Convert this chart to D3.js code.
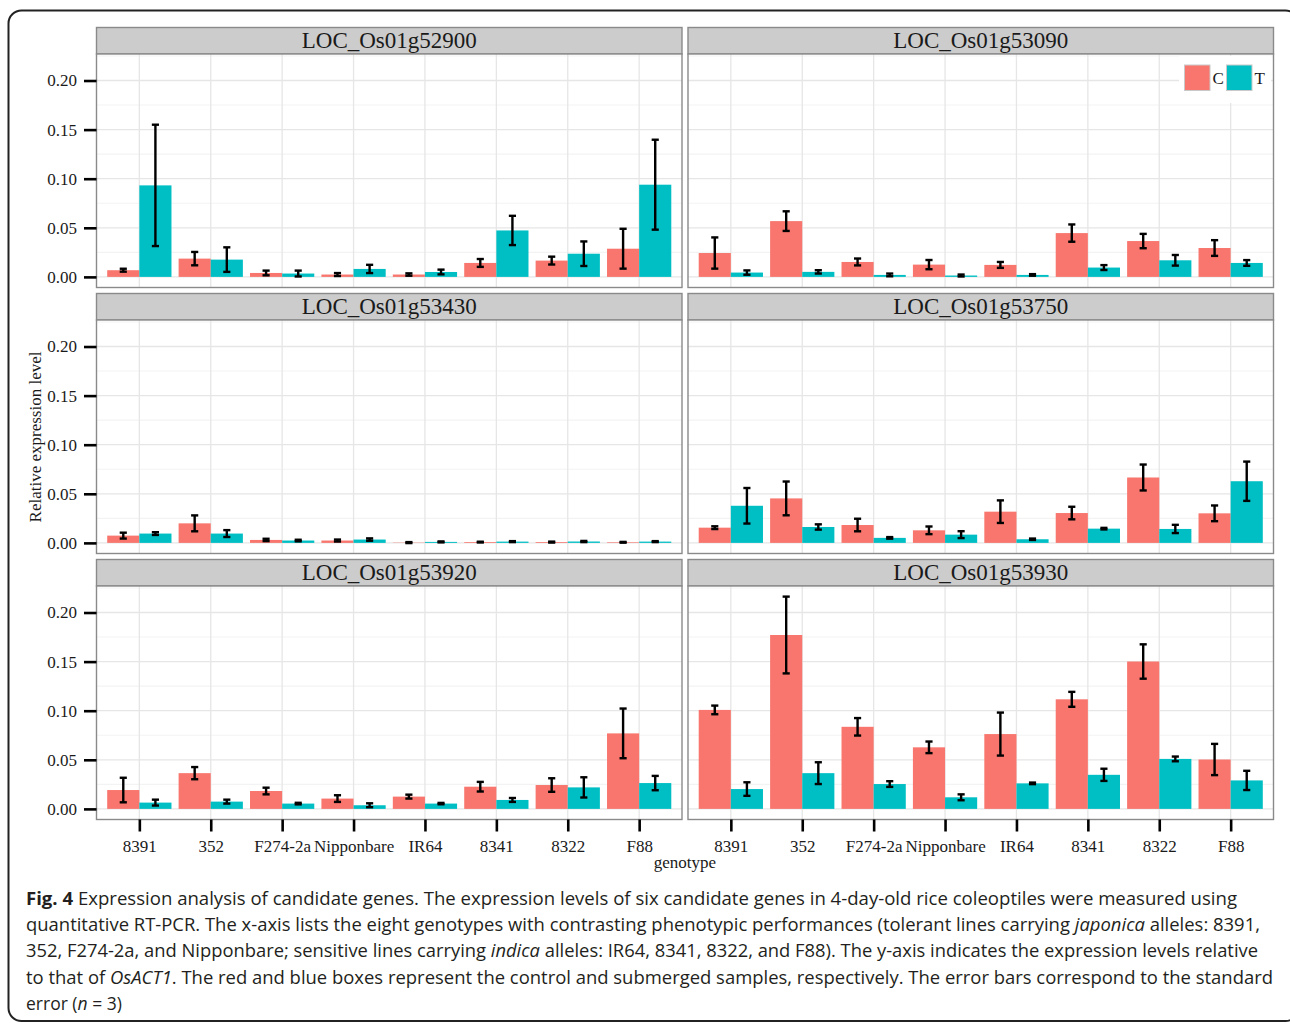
<!DOCTYPE html>
<html>
<head>
<meta charset="utf-8">
<script src="https://cdn.jsdelivr.net/npm/d3@7"></script>
<style>
  body { margin: 0; background: #fff; }
  svg { display: block; }
</style>
</head>
<body>
<script>
// ---- data -------------------------------------------------------------
const genotypes = ["8391", "352", "F274-2a", "Nipponbare", "IR64", "8341", "8322", "F88"];
const genes = ["LOC_Os01g52900", "LOC_Os01g53090", "LOC_Os01g53430",
               "LOC_Os01g53750", "LOC_Os01g53920", "LOC_Os01g53930"];
const seriesNames = ["C", "T"];

// mean relative expression, control (C), one row per gene
const ctrlMean = [
  [0.0068, 0.0186, 0.0040, 0.0024, 0.0024, 0.0142, 0.0166, 0.0287],
  [0.0243, 0.0568, 0.0152, 0.0125, 0.0122, 0.0446, 0.0365, 0.0294],
  [0.0074, 0.0199, 0.0030, 0.0024, 0.0003, 0.0008, 0.0008, 0.0006],
  [0.0155, 0.0453, 0.0182, 0.0128, 0.0318, 0.0304, 0.0666, 0.0301],
  [0.0192, 0.0364, 0.0182, 0.0105, 0.0125, 0.0226, 0.0243, 0.0769],
  [0.1008, 0.1771, 0.0836, 0.0627, 0.0762, 0.1116, 0.1501, 0.0503]
];
// standard error, control
const ctrlSE = [
  [0.0015, 0.0068, 0.0024, 0.0015, 0.0012, 0.0040, 0.0040, 0.0203],
  [0.0159, 0.0100, 0.0035, 0.0047, 0.0030, 0.0088, 0.0073, 0.0080],
  [0.0030, 0.0081, 0.0012, 0.0010, 0.0005, 0.0004, 0.0005, 0.0004],
  [0.0014, 0.0172, 0.0064, 0.0039, 0.0115, 0.0064, 0.0132, 0.0080],
  [0.0125, 0.0062, 0.0034, 0.0034, 0.0020, 0.0049, 0.0069, 0.0253],
  [0.0044, 0.0391, 0.0089, 0.0059, 0.0219, 0.0076, 0.0175, 0.0159]
];
// mean relative expression, submerged (T)
const trtMean = [
  [0.0932, 0.0176, 0.0034, 0.0081, 0.0050, 0.0473, 0.0236, 0.0939],
  [0.0044, 0.0051, 0.0020, 0.0014, 0.0020, 0.0095, 0.0169, 0.0142],
  [0.0095, 0.0095, 0.0024, 0.0034, 0.0010, 0.0013, 0.0014, 0.0013],
  [0.0378, 0.0162, 0.0051, 0.0084, 0.0037, 0.0145, 0.0142, 0.0628],
  [0.0064, 0.0074, 0.0054, 0.0037, 0.0054, 0.0091, 0.0219, 0.0263],
  [0.0202, 0.0364, 0.0253, 0.0118, 0.0260, 0.0347, 0.0509, 0.0290]
];
// standard error, submerged
const trtSE = [
  [0.0618, 0.0125, 0.0030, 0.0042, 0.0024, 0.0149, 0.0125, 0.0458],
  [0.0022, 0.0017, 0.0014, 0.0010, 0.0008, 0.0025, 0.0054, 0.0029],
  [0.0014, 0.0035, 0.0008, 0.0012, 0.0005, 0.0005, 0.0006, 0.0005],
  [0.0181, 0.0027, 0.0008, 0.0035, 0.0007, 0.0008, 0.0042, 0.0200],
  [0.0030, 0.0020, 0.0008, 0.0020, 0.0007, 0.0020, 0.0103, 0.0073],
  [0.0069, 0.0111, 0.0029, 0.0030, 0.0008, 0.0062, 0.0024, 0.0098]
];

const yTicks = [0, 0.05, 0.10, 0.15, 0.20];
const yMinorTicks = [0.025, 0.075, 0.125, 0.175, 0.225];

const captionLines = [
  [{t: "Fig. 4", b: true}, {t: " Expression analysis of candidate genes. The expression levels of six candidate genes in 4-day-old rice coleoptiles were measured using"}],
  [{t: "quantitative RT-PCR. The x-axis lists the eight genotypes with contrasting phenotypic performances (tolerant lines carrying "}, {t: "japonica", i: true}, {t: " alleles: 8391,"}],
  [{t: "352, F274-2a, and Nipponbare; sensitive lines carrying "}, {t: "indica", i: true}, {t: " alleles: IR64, 8341, 8322, and F88). The y-axis indicates the expression levels relative"}],
  [{t: "to that of "}, {t: "OsACT1", i: true}, {t: ". The red and blue boxes represent the control and submerged samples, respectively. The error bars correspond to the standard"}],
  [{t: "error ("}, {t: "n", i: true}, {t: " = 3)"}]
];

// ---- layout & style -----------------------------------------------------
const W = 1290, H = 1023;
const colLeft = [96.5, 688];
const panelW = 585.5;
const rowTop = [27.5, 293.5, 559.5];
const stripH = 26.5;
const panelH = 233.5;
const colors = {C: "#F8766D", T: "#00BFC4"};
const serif = "'Liberation Serif', 'Times New Roman', serif";
const sans = "'Open Sans', 'Noto Sans', sans-serif";
const inkText = "#1a1a1a";

const svg = d3.select("body").append("svg")
  .attr("width", W).attr("height", H);

// outer figure frame
svg.append("rect")
  .attr("x", 8.5).attr("y", 10.5)
  .attr("width", 1290).attr("height", 1010.5)
  .attr("rx", 13).attr("ry", 13)
  .attr("fill", "none").attr("stroke", "#222").attr("stroke-width", 2);

// shared y range (ggplot-style 5% expansion around data extent)
let hi = 0, lo = 0;
genes.forEach((g, gi) => {
  genotypes.forEach((_, k) => {
    hi = Math.max(hi, ctrlMean[gi][k] + ctrlSE[gi][k], trtMean[gi][k] + trtSE[gi][k]);
  });
});
const span = hi - lo;
const yDomain = [lo - 0.05 * span, hi + 0.05 * span];

genes.forEach((gene, gi) => {
  const col = gi % 2, row = Math.floor(gi / 2);
  const left = colLeft[col];
  const top = rowTop[row] + stripH;
  const bottom = top + panelH;

  const x = d3.scalePoint().domain(genotypes).range([left, left + panelW]).padding(0.6);
  const step = x.step();
  const y = d3.scaleLinear().domain(yDomain).range([bottom, top]);

  const g = svg.append("g");

  // strip
  g.append("rect")
    .attr("x", left).attr("y", rowTop[row])
    .attr("width", panelW).attr("height", stripH)
    .attr("fill", "#cccccc").attr("stroke", "#8a8a8a").attr("stroke-width", 1.4);
  g.append("text")
    .attr("x", left + panelW / 2).attr("y", rowTop[row] + 20.8)
    .attr("text-anchor", "middle")
    .attr("font-family", serif).attr("font-size", 23).attr("fill", inkText)
    .text(gene);

  // panel background
  g.append("rect")
    .attr("x", left).attr("y", top).attr("width", panelW).attr("height", panelH)
    .attr("fill", "#fff");

  // grid
  g.selectAll(".minor").data(yMinorTicks.filter(v => y(v) > top)).enter().append("line")
    .attr("x1", left).attr("x2", left + panelW)
    .attr("y1", d => y(d)).attr("y2", d => y(d))
    .attr("stroke", "#f3f3f3").attr("stroke-width", 1.1);
  g.selectAll(".major").data(yTicks).enter().append("line")
    .attr("x1", left).attr("x2", left + panelW)
    .attr("y1", d => y(d)).attr("y2", d => y(d))
    .attr("stroke", "#e6e6e6").attr("stroke-width", 1.3);
  g.selectAll(".vgrid").data(genotypes).enter().append("line")
    .attr("x1", d => x(d)).attr("x2", d => x(d))
    .attr("y1", top).attr("y2", bottom)
    .attr("stroke", "#e6e6e6").attr("stroke-width", 1.3);

  // bars and error bars
  const rows = [];
  genotypes.forEach((geno, k) => {
    rows.push({geno, s: "C", v: ctrlMean[gi][k], se: ctrlSE[gi][k], off: -0.225});
    rows.push({geno, s: "T", v: trtMean[gi][k], se: trtSE[gi][k], off: 0.225});
  });
  const bw = 0.45 * step;
  g.selectAll(".bar").data(rows).enter().append("rect")
    .attr("x", d => x(d.geno) + d.off * step - bw / 2)
    .attr("width", bw)
    .attr("y", d => y(d.v))
    .attr("height", d => y(0) - y(d.v))
    .attr("fill", d => colors[d.s]);

  const cap = 0.1 * step;
  const eb = g.selectAll(".eb").data(rows).enter().append("g")
    .attr("stroke", "#000").attr("stroke-width", 2.4);
  eb.append("line")
    .attr("x1", d => x(d.geno) + d.off * step).attr("x2", d => x(d.geno) + d.off * step)
    .attr("y1", d => y(d.v + d.se)).attr("y2", d => y(d.v - d.se));
  eb.append("line")
    .attr("x1", d => x(d.geno) + d.off * step - cap / 2).attr("x2", d => x(d.geno) + d.off * step + cap / 2)
    .attr("y1", d => y(d.v + d.se)).attr("y2", d => y(d.v + d.se));
  eb.append("line")
    .attr("x1", d => x(d.geno) + d.off * step - cap / 2).attr("x2", d => x(d.geno) + d.off * step + cap / 2)
    .attr("y1", d => y(d.v - d.se)).attr("y2", d => y(d.v - d.se));

  // legend inside the top-right panel
  if (gi === 1) {
    const lg = g.append("g");
    lg.append("rect").attr("x", 1179).attr("y", top + 2).attr("width", 92).attr("height", 47)
      .attr("fill", "#fff");
    const keys = [{s: "C", x: 1184.5}, {s: "T", x: 1226.5}];
    keys.forEach(kd => {
      lg.append("rect").attr("x", kd.x).attr("y", 65).attr("width", 25.5).attr("height", 25.5)
        .attr("fill", colors[kd.s]).attr("stroke", "#c9c9c9").attr("stroke-width", 1);
      lg.append("text").attr("x", kd.x + 28).attr("y", 84)
        .attr("font-family", serif).attr("font-size", 17).attr("fill", inkText)
        .text(kd.s);
    });
  }

  // panel border
  g.append("rect")
    .attr("x", left).attr("y", top).attr("width", panelW).attr("height", panelH)
    .attr("fill", "none").attr("stroke", "#8a8a8a").attr("stroke-width", 1.4);

  // axes
  if (col === 0) {
    const ya = g.append("g").attr("transform", `translate(${left},0)`)
      .call(d3.axisLeft(y).tickValues(yTicks).tickFormat(d3.format(".2f")).tickSize(12.5).tickPadding(7));
    ya.select(".domain").remove();
    ya.selectAll(".tick line").attr("stroke", "#000").attr("stroke-width", 2.6);
    ya.selectAll(".tick text").attr("font-family", serif).attr("font-size", 17).attr("fill", inkText);
  }
  if (row === 2) {
    const xa = g.append("g").attr("transform", `translate(0,${bottom})`)
      .call(d3.axisBottom(x).tickSize(12).tickPadding(8));
    xa.select(".domain").remove();
    xa.selectAll(".tick line").attr("stroke", "#000").attr("stroke-width", 2.6);
    xa.selectAll(".tick text").attr("font-family", serif).attr("font-size", 17).attr("fill", inkText);
  }
});

// axis titles
svg.append("text")
  .attr("transform", "translate(41,437) rotate(-90)")
  .attr("text-anchor", "middle")
  .attr("font-family", serif).attr("font-size", 17).attr("fill", inkText)
  .text("Relative expression level");
svg.append("text")
  .attr("x", 685).attr("y", 868)
  .attr("text-anchor", "middle")
  .attr("font-family", serif).attr("font-size", 17).attr("fill", inkText)
  .text("genotype");

// caption
const capWidths = [1211, 1234, 1232, 1247, null];
captionLines.forEach((parts, li) => {
  const t = svg.append("text")
    .attr("x", 26).attr("y", 905 + li * 26.2)
    .attr("font-family", sans).attr("font-size", 17.5).attr("fill", "#231f20");
  if (capWidths[li]) t.attr("textLength", capWidths[li]).attr("lengthAdjust", "spacingAndGlyphs");
  parts.forEach(p => {
    t.append("tspan")
      .attr("font-weight", p.b ? 700 : 400)
      .attr("font-style", p.i ? "italic" : "normal")
      .text(p.t);
  });
});
</script>
</body>
</html>
